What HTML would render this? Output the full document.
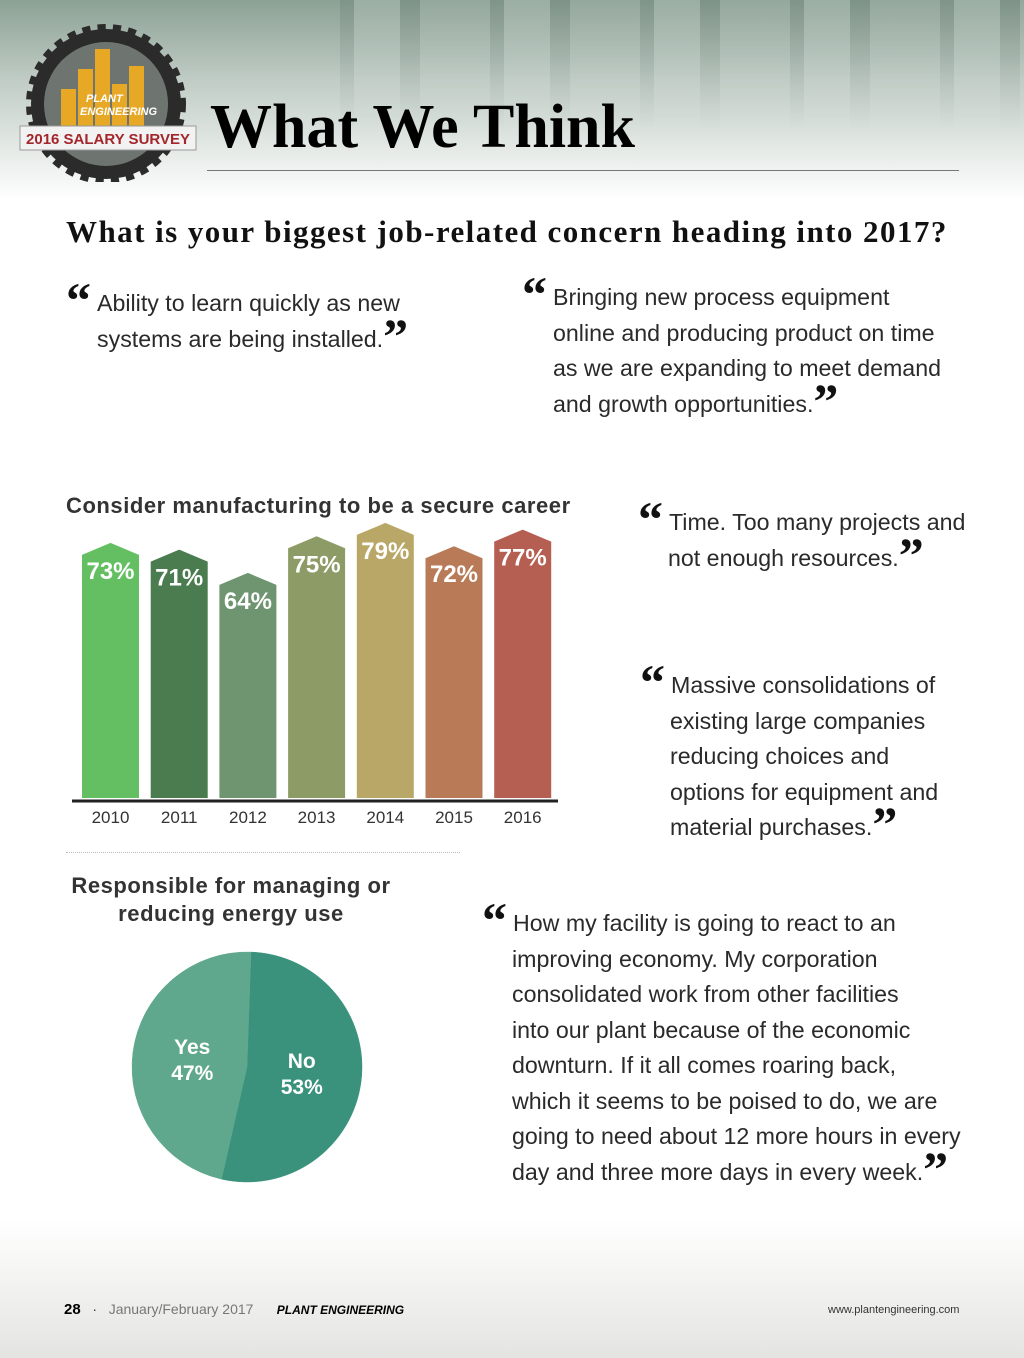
<!DOCTYPE html>
<html><head><meta charset="utf-8">
<style>
body{margin:0;width:1024px;height:1358px;position:relative;overflow:hidden;background:#fff;font-family:"Liberation Sans",sans-serif;}
.abs{position:absolute;}
.q{font-size:23.2px;color:#2a2a2a;line-height:35.5px;}
.mk{display:inline-block;width:31px;font-family:"Liberation Serif",serif;font-weight:bold;font-size:50px;line-height:0;color:#111;position:relative;top:6px;letter-spacing:-4px;}
.mk.e{width:auto;}
</style></head>
<body>
<div class="abs" style="left:0;top:0;width:1024px;height:200px;background:linear-gradient(180deg,rgba(120,145,130,0.85) 0%,rgba(150,170,158,0.6) 40%,rgba(255,255,255,0) 100%);"></div>
<div class="abs" style="left:340px;top:0;width:684px;height:130px;background:repeating-linear-gradient(90deg,rgba(90,110,100,0.25) 0 14px,rgba(220,230,225,0.2) 14px 60px,rgba(70,90,80,0.2) 60px 80px,rgba(200,210,205,0.15) 80px 150px);-webkit-mask-image:linear-gradient(180deg,#000,transparent);"></div>
<div class="abs" style="left:0;top:1220px;width:1024px;height:138px;background:linear-gradient(180deg,rgba(255,255,255,0) 0%,rgba(205,205,200,0.55) 100%);"></div>

<svg class="abs" style="left:18px;top:22px" width="190" height="160" viewBox="0 0 190 160">
  <g transform="translate(88,82)">
    <circle r="75" fill="#2b2b2b" stroke="#2b2b2b" stroke-width="10" stroke-dasharray="8 7"/>
    <circle r="62" fill="#6e7570"/>
    <rect x="-45" y="-15" width="15" height="45" fill="#e6a825"/>
    <rect x="-28" y="-35" width="15" height="65" fill="#e6a825"/>
    <rect x="-11" y="-55" width="15" height="85" fill="#e6a825"/>
    <rect x="6" y="-20" width="15" height="50" fill="#e6a825"/>
    <rect x="23" y="-38" width="15" height="68" fill="#e6a825"/>
  </g>
  <text x="68" y="80" font-family="Liberation Sans" font-style="italic" font-weight="bold" font-size="11" fill="#fff">PLANT</text>
  <text x="62" y="93" font-family="Liberation Sans" font-style="italic" font-weight="bold" font-size="11" fill="#fff">ENGINEERING</text>
  <rect x="2" y="104" width="176" height="24" fill="#f2f2f2" stroke="#999"/>
  <text x="90" y="122" text-anchor="middle" font-family="Liberation Sans" font-weight="bold" font-size="15" fill="#a3262b">2016 SALARY SURVEY</text>
</svg>

<div class="abs" style="left:210px;top:92px;font-family:'Liberation Serif',serif;font-weight:bold;font-size:62px;color:#000;">What We Think</div>
<div class="abs" style="left:207px;top:170px;width:752px;height:1px;background:#777;"></div>

<div class="abs" style="left:66px;top:214px;font-family:'Liberation Serif',serif;font-weight:bold;font-size:31px;letter-spacing:1.45px;color:#111;white-space:nowrap;">What is your biggest job-related concern heading into 2017?</div>

<div class="abs q" style="left:66px;top:286px;width:380px;"><span class="mk">“</span>Ability to learn quickly as new<br><span style="padding-left:31px">systems are being installed.</span><span class="mk e">”</span></div>
<div class="abs q" style="left:522px;top:280px;width:440px;"><span class="mk">“</span>Bringing new process equipment<div style="padding-left:31px">online and producing product on time<br>as we are expanding to meet demand<br>and growth opportunities.<span class="mk e">”</span></div></div>
<div class="abs q" style="left:638px;top:505px;width:380px;"><span class="mk">“</span>Time. Too many projects and<div style="padding-left:30px">not enough resources.<span class="mk e">”</span></div></div>
<div class="abs q" style="left:640px;top:668px;width:380px;"><span class="mk">“</span>Massive consolidations of<div style="padding-left:30px">existing large companies<br>reducing choices and<br>options for equipment and<br>material purchases.<span class="mk e">”</span></div></div>
<div class="abs q" style="left:482px;top:906px;width:530px;"><span class="mk">“</span>How my facility is going to react to an<div style="padding-left:30px">improving economy. My corporation<br>consolidated work from other facilities<br>into our plant because of the economic<br>downturn. If it all comes roaring back,<br>which it seems to be poised to do, we are<br>going to need about 12 more hours in every<br>day and three more days in every week.<span class="mk e">”</span></div></div>

<div class="abs" style="left:66px;top:493px;font-weight:bold;font-size:22px;letter-spacing:0.55px;color:#333;white-space:nowrap;">Consider manufacturing to be a secure career</div>
<svg id="bars" class="abs" style="left:0;top:0" width="600" height="840"></svg>
<div class="abs" style="left:66px;top:852px;width:394px;height:0;border-top:1px dotted #bbb;"></div>

<div class="abs" style="left:46px;top:872px;width:370px;text-align:center;font-weight:bold;font-size:22px;letter-spacing:0.55px;line-height:28px;color:#333;">Responsible for managing or<br>reducing energy use</div>
<svg id="pie" class="abs" style="left:0;top:0" width="400" height="1200"></svg>

<div class="abs" style="left:64px;top:1301px;font-size:14px;color:#333;white-space:nowrap;">
<b style="font-size:15px;color:#000">28</b>&nbsp;&nbsp;&nbsp;·&nbsp;&nbsp;&nbsp;<span style="color:#777">January/February 2017</span>&nbsp;&nbsp;&nbsp;&nbsp;&nbsp;&nbsp;<b style="font-style:italic;font-size:12px;color:#000">PLANT ENGINEERING</b></div>
<div class="abs" style="left:828px;top:1304px;font-size:11px;color:#333;">www.plantengineering.com</div>

<script>
const years=["2010","2011","2012","2013","2014","2015","2016"];
const values=[73,71,64,75,79,72,77];
const barColors=["#63bf62","#4a7c4f","#6e9570","#8d9c66","#b9a767","#b87a57","#b55e52"];
const pieLabels=["No","Yes"];
const pieValues=[53,47];
const pieColors=["#3a927c","#5fa88e"];

const NS="http://www.w3.org/2000/svg";
function mk(p,t,a){const e=document.createElementNS(NS,t);for(const k in a)e.setAttribute(k,a[k]);p.appendChild(e);return e;}
const svg=document.getElementById('bars');
const base=798,scale=3.33,x0=82,step=68.7,bw=57;
const y=v=>base-v*scale;
const ax=mk(svg,'line',{x1:72,x2:558,y1:801,y2:801,stroke:'#222','stroke-width':3});


values.forEach((v,i)=>{
  const x=x0+i*step,t=y(v);
  const b=mk(svg,'path',{d:`M${x},${base}V${t}L${x+bw/2},${t-12}L${x+bw},${t}V${base}Z`,fill:barColors[i]});
  
  
  const l=mk(svg,'text',{x:x+bw/2,y:t+24,'text-anchor':'middle','font-family':'Liberation Sans','font-weight':'bold','font-size':24,fill:'#fff'});
  l.textContent=v+'%';
  
  
  const tk=mk(svg,'text',{x:x+bw/2,y:823,'text-anchor':'middle','font-family':'Liberation Sans','font-size':17,fill:'#333'});
  tk.textContent=years[i];
  
  
});

const ps=document.getElementById('pie');
const cx=247,cy=1067,r=115;
let ang=-88*Math.PI/180;
const tot=pieValues.reduce((a,b)=>a+b,0);
pieValues.forEach((v,i)=>{
  const a2=ang+v/tot*2*Math.PI;
  const p1=[cx+r*Math.cos(ang),cy+r*Math.sin(ang)],p2=[cx+r*Math.cos(a2),cy+r*Math.sin(a2)];
  const large=(a2-ang)>Math.PI?1:0;
  const s=mk(ps,'path',{d:`M${cx},${cy}L${p1[0]},${p1[1]}A${r},${r} 0 ${large} 1 ${p2[0]},${p2[1]}Z`,fill:pieColors[i],stroke:pieColors[i],'stroke-width':0.5});
  
  
  const mid=(ang+a2)/2;
  const lx=cx+r*0.48*Math.cos(mid),ly=cy+r*0.48*Math.sin(mid);
  const t=mk(ps,'text',{x:lx,y:ly-6,'text-anchor':'middle','font-family':'Liberation Sans','font-weight':'bold','font-size':21,fill:'#fff'});
  t.textContent=pieLabels[i];
  
  
  const t2=mk(ps,'text',{x:lx,y:ly+20,'text-anchor':'middle','font-family':'Liberation Sans','font-weight':'bold','font-size':21,fill:'#fff'});
  t2.textContent=v+'%';
  
  
  ang=a2;
});
</script>
</body></html>
